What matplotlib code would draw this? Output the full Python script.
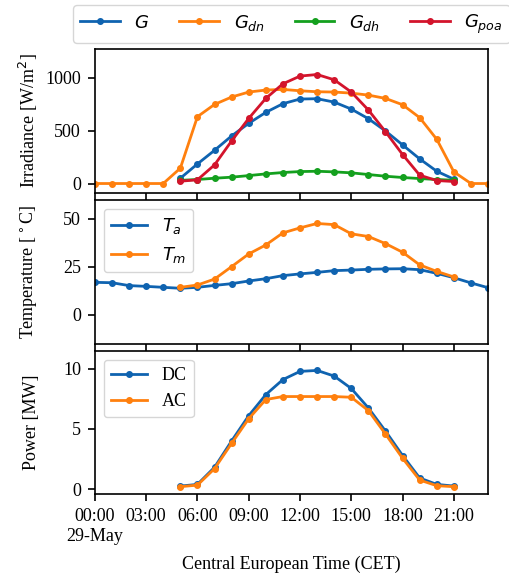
import numpy as np
import pandas as pd
import matplotlib
matplotlib.use('Agg')
import matplotlib.pyplot as plt

plt.rcParams['font.family'] = ['Liberation Serif', 'DejaVu Serif']
plt.rcParams['mathtext.fontset'] = 'dejavusans'
plt.rcParams['font.size'] = 13

# hourly timestamps, 29 May
hours = pd.date_range('2019-05-29 00:00', periods=24, freq='h')
sun = hours[5:22]  # 05:00 .. 21:00

# irradiance [W/m2]
g_dn = [0, 0, 0, 0, 0, 145, 632, 748, 818, 865, 884, 890, 877, 868, 865, 855,
        836, 805, 745, 623, 418, 110, 0, 0]
g = [50, 185, 314, 450, 569, 673, 755, 799, 802, 770, 704, 613, 497, 365, 233, 116, 41]
g_dh = [30, 38, 50, 60, 75, 91, 104, 113, 116, 110, 101, 85, 69, 57, 47, 38, 31]
g_poa = [22, 35, 176, 403, 616, 805, 943, 1016, 1031, 981, 865, 695, 490, 274, 79, 28, 19]

# temperature [C]
t_a = [16.9, 16.7, 15.2, 14.8, 14.3, 13.8, 14.3, 15.3, 16.2, 17.6, 18.8, 20.4,
       21.3, 22.1, 23.0, 23.3, 23.7, 23.9, 24.0, 23.5, 21.6, 19.3, 16.6, 14.1]
t_m = [14.3, 15.5, 18.6, 25.1, 31.7, 36.4, 42.7, 45.3, 47.6, 47.0, 42.2, 40.8,
       37.1, 32.6, 26.0, 22.6, 19.7]

# power [MW]
p_dc = [0.25, 0.39, 1.81, 4.0, 6.1, 7.85, 9.1, 9.78, 9.86, 9.39, 8.36, 6.74,
        4.82, 2.79, 0.92, 0.39, 0.25]
p_ac = [0.2, 0.33, 1.7, 3.8, 5.85, 7.44, 7.69, 7.69, 7.69, 7.69, 7.63, 6.52,
        4.57, 2.56, 0.75, 0.28, 0.2]

blue = '#0f63b0'
orange = '#ff800e'
green = '#14a01e'
red = '#d3142c'
style = dict(marker='o', markersize=4, linewidth=2)

fig, axes = plt.subplots(3, 1, figsize=(5.1, 5.73), dpi=100, sharex=True)
fig.subplots_adjust(left=0.186, right=0.957, top=0.915, bottom=0.137, hspace=0.05)

ax = axes[0]
ax.plot(sun, g, color=blue, label='$G$', **style)
ax.plot(hours, g_dn, color=orange, label='$G_{dn}$', **style)
ax.plot(sun, g_dh, color=green, label='$G_{dh}$', **style)
ax.plot(sun, g_poa, color=red, label='$G_{poa}$', **style)
ax.set_ylim(-85, 1275)
ax.set_yticks([0, 500, 1000])
ax.set_ylabel('Irradiance [W/m$^2$]')
fig.legend(loc='upper left', bbox_to_anchor=(0.143, 0.991, 0.857, 0.0), mode='expand',
           ncol=4, fontsize=13, borderaxespad=0, handlelength=2.2)

ax = axes[1]
ax.plot(hours, t_a, color=blue, label='$T_a$', **style)
ax.plot(sun, t_m, color=orange, label='$T_m$', **style)
ax.set_ylim(-15, 60)
ax.set_yticks([0, 25, 50])
ax.set_ylabel('Temperature [$^\\circ$C]')
ax.legend(loc='upper left', fontsize=13)

ax = axes[2]
ax.plot(sun, p_dc, color=blue, label='DC', **style)
ax.plot(sun, p_ac, color=orange, label='AC', **style)
ax.set_ylim(-0.45, 11.5)
ax.set_yticks([0, 5, 10])
ax.set_ylabel('Power [MW]')
ax.legend(loc='upper left', fontsize=13)
ax.set_xlabel('Central European Time (CET)', labelpad=8)

ax.set_xlim(hours[0], hours[-1])
ticks = hours[::3]
ax.set_xticks(ticks)
ax.set_xticklabels([t.strftime('%H:%M') + ('\n%s' % t.strftime('%d-%b') if i == 0 else '')
                    for i, t in enumerate(ticks)])

for a in axes:
    for s in a.spines.values():
        s.set_linewidth(1.2)
    a.tick_params(width=1.2, length=5, pad=5)
    a.yaxis.set_label_coords(-0.14, 0.5)

fig.savefig('out.png', dpi=100)
